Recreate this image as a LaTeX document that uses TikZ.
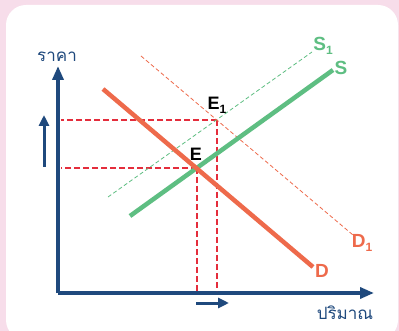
\documentclass[tikz,border=0pt]{standalone}
\usepackage{fontspec}
\setmainfont{Liberation Sans}
\newfontfamily\thaifont[Script=Thai]{Loma}
\usetikzlibrary{arrows.meta,positioning}
\definecolor{axisblue}{RGB}{31,73,125}
\definecolor{dorange}{RGB}{238,106,75}
\definecolor{sgreen}{RGB}{94,190,130}
\definecolor{guidered}{RGB}{228,45,60}
\definecolor{bgpink}{RGB}{247,221,234}
\newcommand{\lowsub}[1]{\raisebox{-0.45ex}{\fontsize{12}{12}\selectfont #1}}

\begin{document}
\begin{tikzpicture}[x=1pt, y=-1pt,
    axis/.style={draw=axisblue, line width=3.4pt, -{Triangle[length=14pt, width=11pt]}},
    shiftarrow/.style={draw=axisblue, line width=3pt, -{Triangle[length=11pt, width=10pt]}},
    curve/.style={line width=4.5pt},
    shifted/.style={line width=0.8pt, dash pattern=on 4pt off 2.5pt},
    guide/.style={draw=guidered, line width=1.1pt, dash pattern=on 6pt off 3pt},
    curvelabel/.style={font=\fontsize{19}{19}\selectfont\bfseries, inner sep=1pt},
    pointlabel/.style={font=\fontsize{18}{18}\selectfont\bfseries, inner sep=1pt},
    axislabel/.style={font=\thaifont\fontsize{17}{17}\selectfont, text=axisblue, inner sep=1pt}
]
\useasboundingbox (0,0) rectangle (399,331);
\clip (0,0) rectangle (399,331);

% background panel
\fill[bgpink] (0,0) rectangle (399,331);
\fill[white, rounded corners=20pt] (6,5) rectangle (398,340);

% axes
\coordinate (origin) at (58,293);
\coordinate (ytip) at (58,66);
\coordinate (xtip) at (374,293);
\draw[axis] (origin) -- (ytip);
\draw[axis] (origin) -- (xtip);
\node[axislabel] (price) at (57,57) {ราคา};
\node[axislabel] (qty) at (345,313) {ปริมาณ};

% equilibrium points
\coordinate (E) at (197,168);
\coordinate (E1) at (217,120);

% guide lines to the axes
\draw[guide] (E1) -- (61,120);
\draw[guide] (E) -- (61,168);
\draw[guide] (E1) -- (217,291);
\draw[guide] (E) -- (197,291);

% shifted curves
\coordinate (s1a) at (108,197);
\coordinate (s1b) at (312,52);
\coordinate (d1a) at (141,56);
\coordinate (d1b) at (353,235);
\draw[shifted, sgreen] (s1a) -- (s1b);
\draw[shifted, dorange] (d1a) -- (d1b);

% original curves
\coordinate (sa) at (130,216);
\coordinate (sb) at (333,70);
\coordinate (da) at (103,89);
\coordinate (db) at (313,267);
\draw[curve, sgreen] (sa) -- (sb);
\draw[curve, dorange] (da) -- (db);

% labels
\node[curvelabel, text=sgreen] (labS1) at (323,46) {S\lowsub{1}};
\node[curvelabel, text=sgreen] (labS) at (341,68) {S};
\node[curvelabel, text=dorange] (labD1) at (362,243) {D\lowsub{1}};
\node[curvelabel, text=dorange] (labD) at (322,271) {D};
\node[pointlabel] (labE) at (196,154) {E};
\node[pointlabel] (labE1) at (217,105) {E\lowsub{1}};

% shift arrows
\coordinate (upa) at (44,167);
\coordinate (upb) at (44,115);
\coordinate (ra) at (196,303);
\coordinate (rb) at (229,303);
\draw[shiftarrow] (upa) -- (upb);
\draw[shiftarrow] (ra) -- (rb);
\end{tikzpicture}
\end{document}
